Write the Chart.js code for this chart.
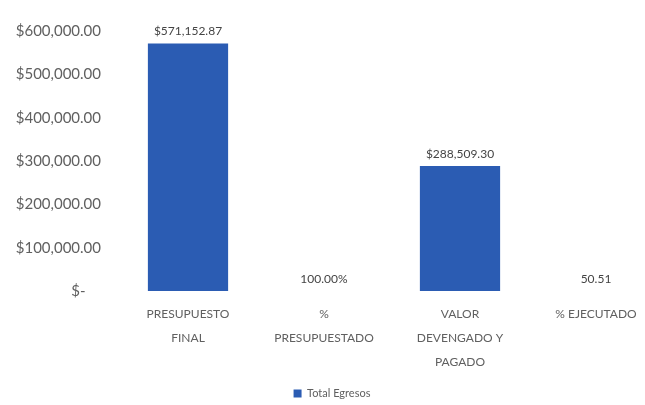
<!DOCTYPE html>
<html>
<head>
<meta charset="utf-8">
<script src="https://cdn.jsdelivr.net/npm/chart.js@4/dist/chart.umd.min.js"></script>
<style>
  html, body { margin:0; padding:0; background:#fff; overflow:hidden; }
  #wrap { width:670px; height:405px; }
</style>
</head>
<body>
<div id="wrap"><canvas id="chartEgresos" width="670" height="405"></canvas></div>
<script>
const categorias = [['PRESUPUESTO','FINAL'], ['%','PRESUPUESTADO'], ['VALOR','DEVENGADO Y','PAGADO'], ['% EJECUTADO']];
const totalEgresos = [571152.87, 100, 288509.30, 50.51];
const etiquetasValor = ['$571,152.87', '100.00%', '$288,509.30', '50.51'];
const ticksY = ['$-    ', '$100,000.00', '$200,000.00', '$300,000.00', '$400,000.00', '$500,000.00', '$600,000.00'];

const gris = '#606060';
const azul = '#2b5cb3';

// etiquetas encima de cada barra
const etiquetas = {
  id: 'etiquetas',
  afterDatasetsDraw(chart){
    const ctx = chart.ctx;
    ctx.save();
    ctx.font = '12px Lato';
    ctx.fillStyle = '#444';
    ctx.textAlign = 'center';
    ctx.textBaseline = 'bottom';
    chart.getDatasetMeta(0).data.forEach((bar, i)=>{
      ctx.fillText(etiquetasValor[i], bar.x, bar.y - 6);
    });
    ctx.restore();
  }
};

new Chart(document.getElementById('chartEgresos'), {
  type: 'bar',
  data: {
    labels: categorias,
    datasets: [{ label: 'Total Egresos', data: totalEgresos, backgroundColor: azul,
      barPercentage: 0.59, categoryPercentage: 1 }]
  },
  options: {
    responsive: false,
    animation: false,
    layout: { padding: { top: 31, right: 6, bottom: -4, left: 0 } },
    plugins: {
      legend: {
        position: 'bottom',
        labels: { boxWidth: 8, boxHeight: 8, padding: 4, color: gris, font: { family: 'Lato', size: 11 } }
      },
      tooltip: { enabled: false }
    },
    scales: {
      y: {
        min: 0, max: 600000,
        grid: { display: false }, border: { display: false },
        ticks: {
          stepSize: 100000, padding: 11, color: gris, font: { family: 'Lato', size: 15 },
          callback: (v)=> ticksY[Math.round(v / 100000)]
        },
        afterFit(s){ s.width = 120; }
      },
      x: {
        grid: { display: false }, border: { display: false },
        ticks: { color: gris, padding: 3, maxRotation: 0, font: { family: 'Lato', size: 12, lineHeight: 2 } },
        afterFit(s){ s.height = 93; }
      }
    }
  },
  plugins: [etiquetas]
});
</script>
</body>
</html>
